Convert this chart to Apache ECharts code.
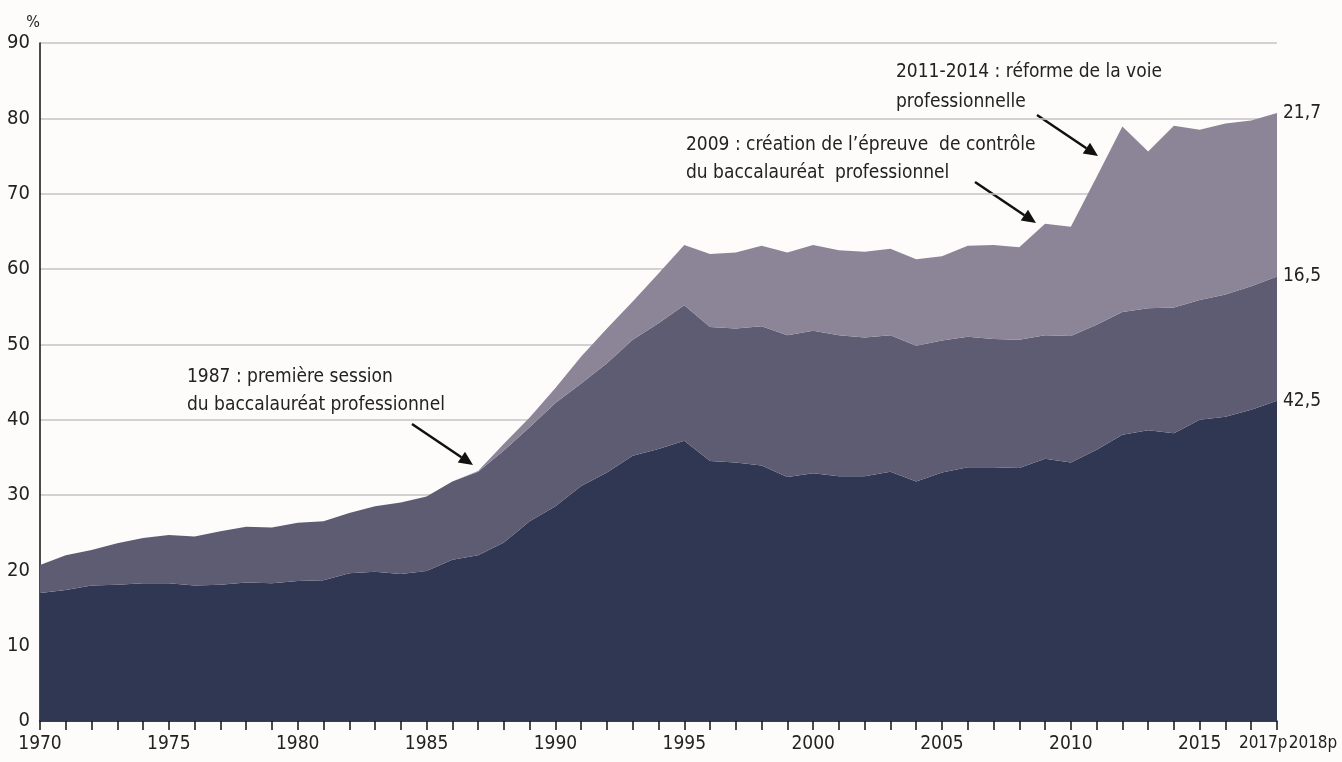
<!DOCTYPE html>
<html>
<head>
<meta charset="utf-8">
<script src="https://cdn.jsdelivr.net/npm/echarts@6/dist/echarts.min.js"></script>
<style>
html,body{margin:0;padding:0;background:#fdfcfa;}
#chart{width:1342px;height:762px;}
</style>
</head>
<body>
<div id="chart"></div>
<script>
var years = [];
for (var y = 1970; y <= 2016; y++) years.push(String(y));
years.push('2017p', '2018p');

// part d'une génération obtenant le baccalauréat, en %
var general = [17.0, 17.4, 18.0, 18.1, 18.3, 18.3, 18.0, 18.1, 18.4, 18.3,
  18.6, 18.7, 19.6, 19.8, 19.5, 19.9, 21.4, 22.0, 23.7, 26.5,
  28.5, 31.2, 33.0, 35.2, 36.1, 37.2, 34.5, 34.3, 33.9, 32.4,
  32.9, 32.5, 32.5, 33.1, 31.8, 33.0, 33.7, 33.7, 33.6, 34.8,
  34.3, 36.0, 38.0, 38.6, 38.2, 40.0, 40.4, 41.3, 42.5];
var techno = [3.7, 4.6, 4.7, 5.5, 6.0, 6.4, 6.5, 7.1, 7.4, 7.4,
  7.7, 7.8, 8.0, 8.7, 9.5, 9.9, 10.4, 11.1, 12.2, 12.5,
  13.7, 13.6, 14.5, 15.4, 16.7, 18.0, 17.8, 17.8, 18.5, 18.8,
  18.9, 18.7, 18.4, 18.1, 18.0, 17.5, 17.3, 17.0, 17.0, 16.4,
  16.8, 16.6, 16.3, 16.2, 16.7, 15.9, 16.2, 16.4, 16.5];
var pro = [0, 0, 0, 0, 0, 0, 0, 0, 0, 0,
  0, 0, 0, 0, 0, 0, 0, 0.1, 0.9, 1.3,
  2.0, 3.6, 4.6, 5.1, 6.6, 8.0, 9.7, 10.1, 10.7, 11.0,
  11.4, 11.3, 11.4, 11.5, 11.5, 11.2, 12.1, 12.5, 12.3, 14.8,
  14.5, 19.6, 24.6, 20.8, 24.1, 22.6, 22.7, 22.0, 21.7];
var yTicks = [0, 10, 20, 30, 40, 50, 60, 70, 80, 90];

var FONT = '"Liberation Sans Narrow", "DejaVu Sans Condensed", "Roboto", sans-serif';
var chart = echarts.init(document.getElementById('chart'));

function arrow(x1, y1, x2, y2) {
  var a = Math.atan2(y2 - y1, x2 - x1), L = 14, W = 6.5;
  var bx = x2 - L * Math.cos(a), by = y2 - L * Math.sin(a);
  return {
    type: 'group', children: [
      {type: 'line', shape: {x1: x1, y1: y1, x2: bx, y2: by}, style: {stroke: '#111', lineWidth: 2.5}},
      {type: 'polygon', shape: {points: [[x2, y2],
        [bx + W * Math.sin(a), by - W * Math.cos(a)],
        [bx - W * Math.sin(a), by + W * Math.cos(a)]]}, style: {fill: '#111'}}
    ]
  };
}
function note(x, y, txt) {
  return {type: 'text', x: x, y: y, style: {text: txt, font: '19px ' + FONT, fill: '#222', verticalAlign: 'middle'}};
}
function inside(x, y, txt) {
  return {type: 'text', x: x, y: y, style: {text: txt, font: 'bold 20px ' + FONT, fill: '#fff', align: 'center', verticalAlign: 'middle'}};
}

function mkSeries(name, data, color) {
  return {
    name: name, type: 'line', stack: 'bac', data: data,
    symbol: 'none', smooth: false,
    lineStyle: {width: 0},
    areaStyle: {color: color, opacity: 1},
    endLabel: {
      show: true, distance: 6, color: '#222', fontSize: 19, fontFamily: FONT,
      formatter: function (p) { return String(p.value).replace('.', ','); }
    }
  };
}

var option = {
  backgroundColor: '#fdfcfa',
  animation: false,
  grid: {left: 40, right: 65, top: 43, bottom: 41, outerBoundsMode: 'none', containLabel: false},
  xAxis: {
    type: 'category', data: years, boundaryGap: false,
    axisLine: {lineStyle: {color: '#111', width: 1.5}},
    axisTick: {show: true, interval: 0, length: 9, lineStyle: {color: '#111', width: 1.5}},
    axisLabel: {
      interval: 0, margin: 14, color: '#222', fontSize: 19, fontFamily: FONT,
      formatter: function (v, i) {
        if (v === '2017p') return '{a|' + v + '}';
        if (v === '2018p') return '{b|' + v + '}';
        return (i % 5 === 0) ? v : '';
      },
      rich: {
        a: {fontSize: 17, fontFamily: FONT, color: '#222', padding: [0, 0, 0, 24]},
        b: {fontSize: 17, fontFamily: FONT, color: '#222', padding: [0, 0, 0, 72]}
      }
    }
  },
  yAxis: {
    type: 'value', min: yTicks[0], max: yTicks[yTicks.length - 1], interval: 10,
    name: '%', nameLocation: 'end', nameGap: 12,
    nameTextStyle: {color: '#222', fontSize: 16, fontFamily: FONT, align: 'center', padding: [0, 14, 0, 0]},
    axisLine: {show: true, lineStyle: {color: '#111', width: 1.5}},
    axisTick: {show: false},
    axisLabel: {margin: 10, color: '#222', fontSize: 20, fontFamily: FONT},
    splitLine: {lineStyle: {color: '#c4c4c4', width: 1.5}}
  },
  series: [
    mkSeries('Général', general, '#303752'),
    mkSeries('Technologique', techno, '#5e5c73'),
    mkSeries('Professionnel', pro, '#8b8597')
  ],
  graphic: [
    note(187, 377, '1987 : première session'),
    note(187, 405, 'du baccalauréat professionnel'),
    note(686, 145, '2009 : création de l\u2019épreuve  de contrôle'),
    note(686, 173, 'du baccalauréat  professionnel'),
    note(896, 72, '2011-2014 : réforme de la voie'),
    note(896, 102, 'professionnelle'),
    arrow(412, 424, 473, 465),
    arrow(975, 182, 1036, 223),
    arrow(1037, 115, 1098, 156),
    inside(855, 278, 'Professionnel'),
    inside(858, 370, 'Technologique'),
    inside(826, 502, 'Général')
  ]
};
chart.setOption(option);
</script>
</body>
</html>
